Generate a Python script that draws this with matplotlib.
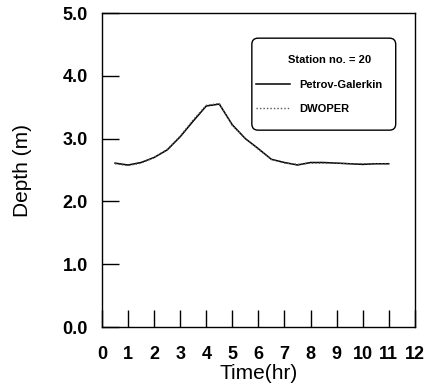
import matplotlib
matplotlib.use("Agg")
import matplotlib.pyplot as plt
from matplotlib.patches import FancyBboxPatch

plt.rcParams['font.family'] = ['Liberation Sans', 'DejaVu Sans']

time_hr = [0.5, 1.0, 1.5, 2.0, 2.5, 3.0, 3.5, 4.0, 4.5, 5.0, 5.5, 6.0, 6.5,
           7.0, 7.5, 8.0, 8.5, 9.0, 9.5, 10.0, 10.5, 11.0]
petrov_galerkin = [2.61, 2.58, 2.62, 2.70, 2.82, 3.03, 3.28, 3.52, 3.55, 3.22,
                   3.00, 2.84, 2.67, 2.62, 2.58, 2.62, 2.62, 2.61, 2.60, 2.59,
                   2.60, 2.60]
dwoper = [2.60, 2.57, 2.61, 2.70, 2.83, 3.04, 3.30, 3.53, 3.56, 3.21,
          3.00, 2.83, 2.67, 2.61, 2.59, 2.61, 2.61, 2.61, 2.60, 2.60,
          2.60, 2.60]
x_ticks = list(range(0, 13))
y_ticks = [0.0, 1.0, 2.0, 3.0, 4.0, 5.0]
station_label = "Station no. = 20"

fig = plt.figure(figsize=(4.25, 3.85), dpi=100)
ax = fig.add_axes([0.24, 0.1506, 0.736, 0.8155])

ax.plot(time_hr, petrov_galerkin, color='black', lw=1.1, label='Petrov-Galerkin')
ax.plot(time_hr, dwoper, color='#555555', lw=1.0, ls=(0, (1, 1.5)), label='DWOPER')

ax.set_xlim(0, 12)
ax.set_ylim(0, 5)
ax.set_xticks(x_ticks)
ax.set_xticklabels([str(v) for v in x_ticks])
ax.set_yticks(y_ticks)
ax.set_yticklabels([f"{v:.1f}" for v in y_ticks])
ax.tick_params(axis='both', direction='in', length=12, width=1.0,
               labelsize=13, top=False, right=False)
ax.tick_params(axis='x', pad=13.5)
ax.tick_params(axis='y', pad=10)
for lab in ax.get_xticklabels() + ax.get_yticklabels():
    lab.set_fontweight('bold')
for s in ax.spines.values():
    s.set_linewidth(1.0)

ax.set_xlabel('Time(hr)', fontsize=15, labelpad=1)
ax.set_ylabel('Depth (m)', fontsize=15, labelpad=22)

# legend frame (rounded box)
box = FancyBboxPatch((0.479 + 0.02, 0.627 + 0.02), 0.460 - 0.04, 0.293 - 0.04,
                     boxstyle="round,pad=0.02,rounding_size=0.02",
                     transform=ax.transAxes, facecolor='white',
                     edgecolor='black', lw=1.0, zorder=3)
ax.add_patch(box)

ax.text(0.728, 0.850, station_label, transform=ax.transAxes,
        ha='center', va='center', fontsize=8.0, fontweight='bold', zorder=5)

leg = ax.legend(loc='center left', bbox_to_anchor=(0.492, 0.7325),
                fontsize=8.0, frameon=False,
                handlelength=3.1, handletextpad=0.8, borderpad=0,
                labelspacing=1.2, borderaxespad=0)
leg.set_zorder(4)
for t in leg.get_texts():
    t.set_fontweight('bold')

fig.savefig('out.png', dpi=100)
